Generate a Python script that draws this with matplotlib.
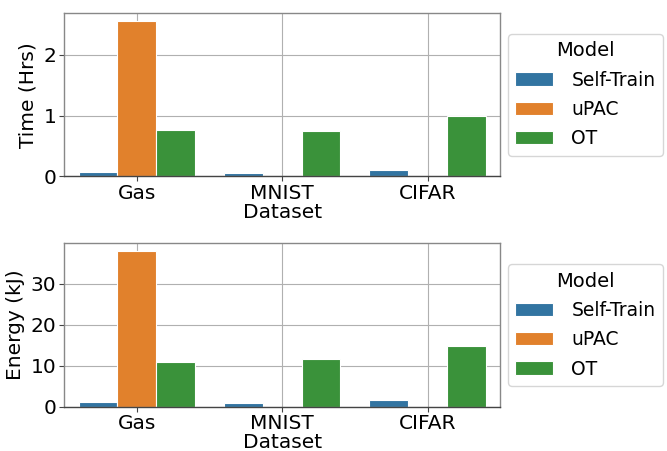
import matplotlib
matplotlib.use("Agg")
import matplotlib.pyplot as plt
import numpy as np
import pandas as pd
import seaborn as sns

# Dados
datasets = ['Gas', 'MNIST', 'CIFAR']
models = ['Self-Train', 'uPAC', 'OT']
tempo_self = [0.075, 0.06, 0.11]
tempo_upac = [2.56, np.nan, np.nan]
tempo_ot = [0.765, 0.74, 0.99]
energia_self = [1.1, 0.95, 1.6]
energia_upac = [38.0, np.nan, np.nan]
energia_ot = [10.9, 11.7, 14.95]


def montar(self_vals, upac_vals, ot_vals, coluna):
    linhas = []
    for nome, vals in zip(models, [self_vals, upac_vals, ot_vals]):
        for d, v in zip(datasets, vals):
            linhas.append({'Dataset': d, 'Model': nome, coluna: v})
    return pd.DataFrame(linhas)


df_tempo = montar(tempo_self, tempo_upac, tempo_ot, 'Time (Hrs)')
df_energia = montar(energia_self, energia_upac, energia_ot, 'Energy (kJ)')

fs = 14.5
plt.rcParams['font.family'] = 'DejaVu Sans'
plt.rcParams['font.size'] = fs
plt.rcParams['axes.edgecolor'] = '#555555'
plt.rcParams['axes.linewidth'] = 1.0

fig, axes = plt.subplots(2, 1, figsize=(6.67, 4.51), dpi=100)
fig.subplots_adjust(left=0.096, right=0.75, top=0.971, bottom=0.098, hspace=0.41)

for ax, df, col in zip(axes, [df_tempo, df_energia], ['Time (Hrs)', 'Energy (kJ)']):
    sns.barplot(data=df, x='Dataset', y=col, hue='Model', hue_order=models,
                order=datasets, ax=ax, errorbar=None, edgecolor='white',
                linewidth=0.8)
    ax.grid(True, color='#b0b0b0', linewidth=0.8)
    ax.set_axisbelow(True)
    for s in ['top', 'right', 'left']:
        ax.spines[s].set_color('#888888')
    ax.spines['bottom'].set_color('#444444')
    ax.tick_params(labelsize=fs, length=3.5, color='#444444', pad=2)
    ax.set_xlabel('Dataset', fontsize=fs, labelpad=0)
    ax.set_ylabel(col, fontsize=fs)
    ax.legend(title='Model', loc='center left', bbox_to_anchor=(1.0, 0.5),
              fontsize=13.5, title_fontsize=14, handletextpad=1.0,
              labelspacing=0.55, borderaxespad=0.4)

fig.savefig('out.png', dpi=100)
